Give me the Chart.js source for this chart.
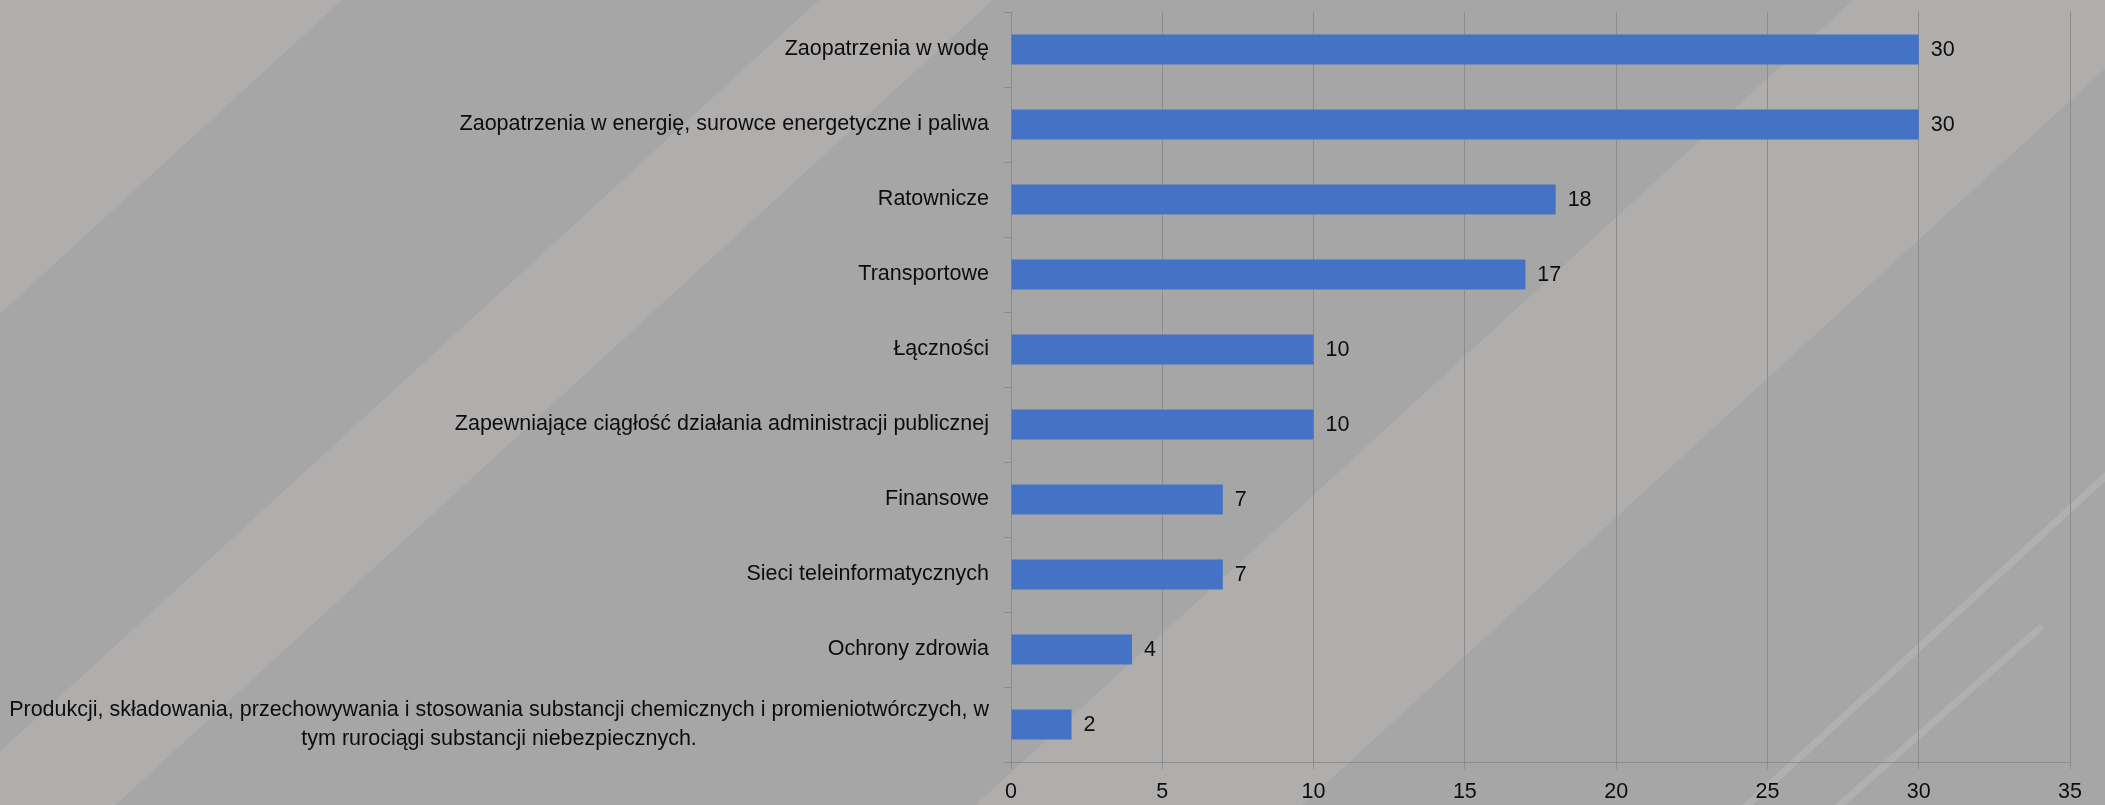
<!DOCTYPE html>
<html>
<head>
<meta charset="utf-8">
<script src="https://cdn.jsdelivr.net/npm/chart.js@4.4.0/dist/chart.umd.min.js"></script>
<style>
  body { margin: 0; background: #a6a6a6; }
  #wrap { width: 2105px; height: 805px; position: relative; }
</style>
</head>
<body>
<div id="wrap"><canvas id="chart_infra"></canvas></div>
<script>
// categories of critical infrastructure (top to bottom, as in the picture)
var categories = [
  'Zaopatrzenia w wodę',
  'Zaopatrzenia w energię, surowce energetyczne i paliwa',
  'Ratownicze',
  'Transportowe',
  'Łączności',
  'Zapewniające ciągłość działania administracji publicznej',
  'Finansowe',
  'Sieci teleinformatycznych',
  'Ochrony zdrowia',
  ['Produkcji, składowania, przechowywania i stosowania substancji chemicznych i promieniotwórczych, w',
   'tym rurociągi substancji niebezpiecznych.']
];
var values = [30, 30, 18, 17, 10, 10, 7, 7, 4, 2];

// x axis ticks
var xMin = 0;
var xMax = 35;
var xStep = 5;

var fontName = '"Liberation Sans", Arial, sans-serif';
var fontSize = 21.5;
var textColor = '#0d0d0d';
var lineColor = '#8c8c8c';

// grey background with the diagonal light stripes
var stripesPlugin = {
  id: 'stripes',
  beforeDraw: function(chart) {
    var ctx = chart.ctx;
    var w = chart.width, h = chart.height;
    var k = 1.09;
    ctx.save();
    ctx.fillStyle = '#a6a6a6';
    ctx.fillRect(0, 0, w, h);
    function band(a, b) {
      ctx.beginPath();
      ctx.moveTo(a, 0);
      ctx.lineTo(b, 0);
      ctx.lineTo(b - k * h, h);
      ctx.lineTo(a - k * h, h);
      ctx.closePath();
      ctx.fillStyle = '#b0adad';
      ctx.fill();
    }
    band(-1200, 342);
    band(819, 993);
    band(1853, 2180);
    // two thin streaks bottom right
    ctx.strokeStyle = 'rgba(182,180,180,0.7)';
    ctx.lineWidth = 7;
    ctx.lineCap = 'round';
    ctx.beginPath();
    ctx.moveTo(2180, 408);
    ctx.lineTo(1740, 812);
    ctx.stroke();
    ctx.beginPath();
    ctx.moveTo(2040, 628);
    ctx.lineTo(1832, 812);
    ctx.stroke();
    ctx.restore();
  }
};

// the long wrapped label is centred on itself, like in the original
var wrapLabelPlugin = {
  id: 'wrapLabel',
  beforeDraw: function(chart) {
    var ctx = chart.ctx;
    var items = chart.scales.y.getLabelItems();
    items.forEach(function(item) {
      if (Array.isArray(item.label) && item.options.textAlign === 'right') {
        ctx.save();
        ctx.font = item.font.string;
        var widths = item.label.map(function(s) { return ctx.measureText(s).width; });
        ctx.restore();
        var widest = Math.max.apply(null, widths);
        item.options.textAlign = 'center';
        item.options.translation[0] -= widest / 2;
      }
    });
  }
};

// value labels at the end of every bar
var valueLabelPlugin = {
  id: 'valueLabels',
  afterDatasetsDraw: function(chart) {
    var ctx = chart.ctx;
    var meta = chart.getDatasetMeta(0);
    ctx.save();
    ctx.font = fontSize + 'px ' + fontName;
    ctx.fillStyle = textColor;
    ctx.textAlign = 'left';
    ctx.textBaseline = 'middle';
    meta.data.forEach(function(bar, i) {
      ctx.fillText(String(values[i]), bar.x + 12, bar.y + 1);
    });
    ctx.restore();
  }
};

var ctx = document.getElementById('chart_infra').getContext('2d');
var chartInfra = new Chart(ctx, {
  type: 'bar',
  data: {
    labels: categories,
    datasets: [{
      data: values,
      backgroundColor: '#4472c4',
      borderWidth: 0,
      barPercentage: 0.4,
      categoryPercentage: 1.0
    }]
  },
  options: {
    indexAxis: 'y',
    responsive: true,
    maintainAspectRatio: false,
    animation: false,
    layout: { padding: { left: 0, right: 35, top: 12, bottom: 0 } },
    plugins: {
      legend: { display: false },
      tooltip: { enabled: false }
    },
    scales: {
      x: {
        min: xMin,
        max: xMax,
        grid: { color: lineColor, lineWidth: 1, tickLength: 7, drawTicks: true },
        border: { color: lineColor, width: 1 },
        ticks: {
          stepSize: xStep,
          color: textColor,
          padding: 10,
          font: { family: fontName, size: fontSize }
        },
        afterFit: function(scale) { scale.height = 43; }
      },
      y: {
        grid: { offset: true, drawOnChartArea: false, drawTicks: true, tickLength: 7, color: lineColor },
        border: { color: lineColor, width: 1 },
        ticks: {
          color: textColor,
          padding: 15,
          autoSkip: false,
          font: { family: fontName, size: fontSize, lineHeight: 1.33 }
        },
        afterFit: function(scale) {
          scale.width = 1011;
          scale.paddingTop = 0;
          scale.paddingBottom = 0;
        }
      }
    }
  },
  plugins: [stripesPlugin, wrapLabelPlugin, valueLabelPlugin]
});
</script>
</body>
</html>
